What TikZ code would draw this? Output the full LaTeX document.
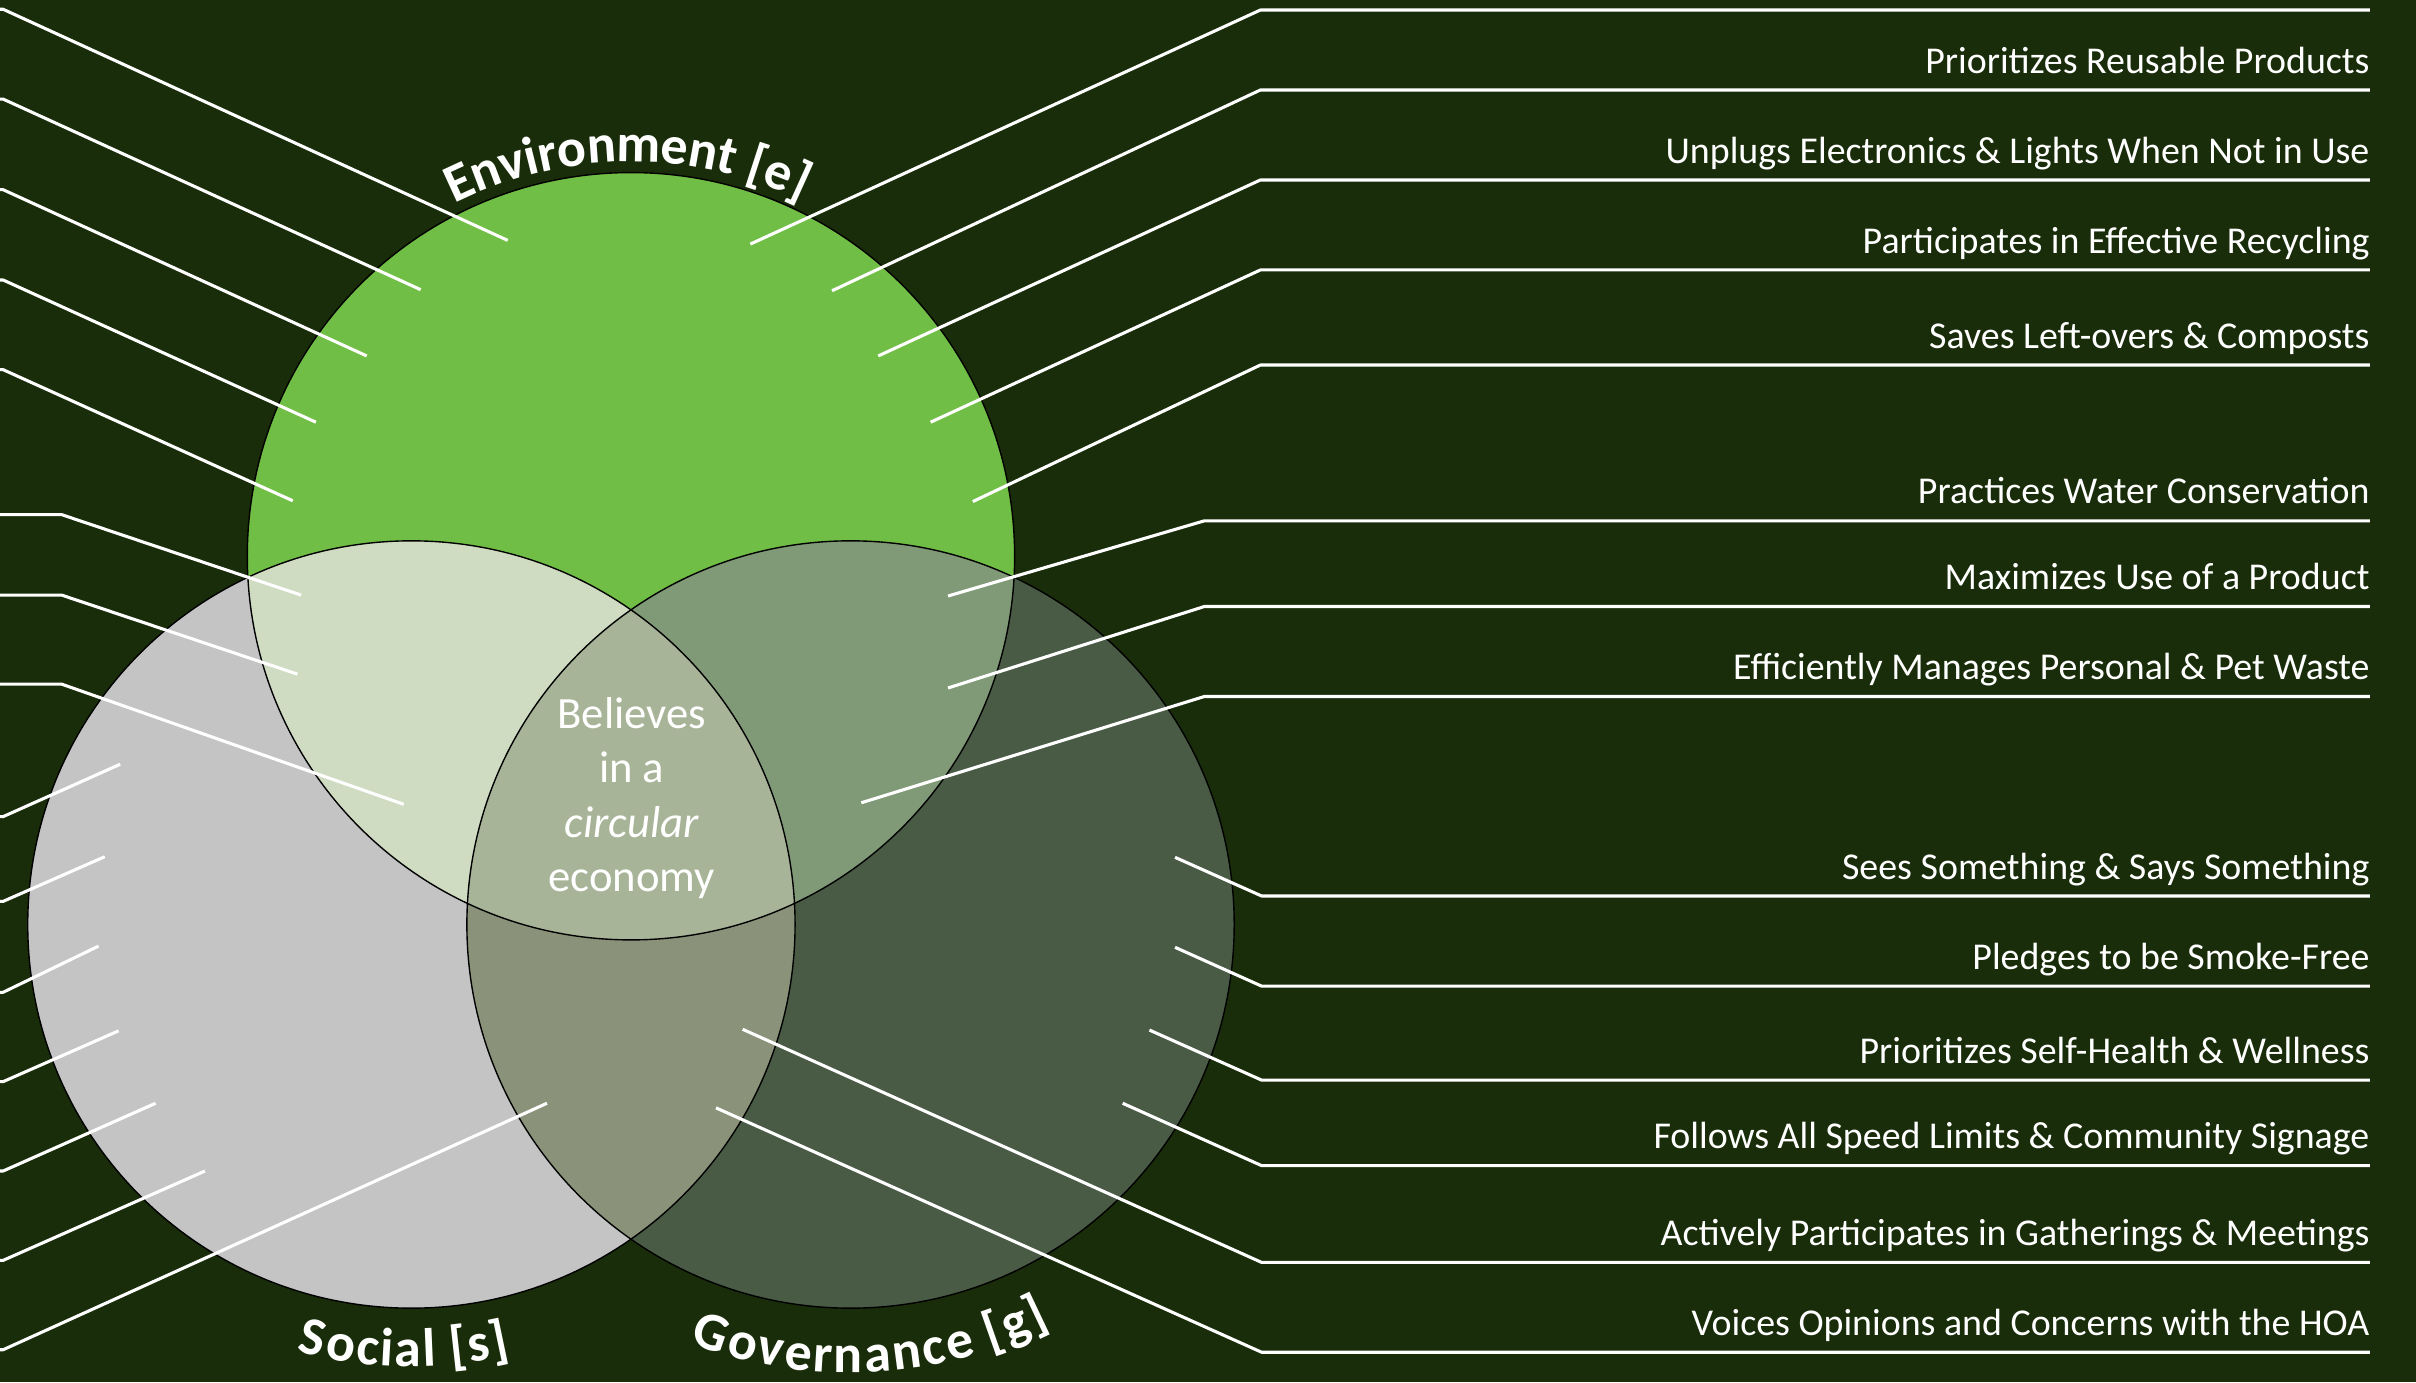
\documentclass[tikz,border=0pt]{standalone}
\usepackage{fontspec}
\setmainfont{Carlito}
\usetikzlibrary{decorations.text}
\definecolor{bgc}{RGB}{25,45,10}
\definecolor{envc}{RGB}{112,190,70}
\definecolor{socc}{RGB}{196,196,196}
\definecolor{govc}{RGB}{73,91,68}
\definecolor{esc}{RGB}{207,220,194}
\definecolor{egc}{RGB}{128,154,119}
\definecolor{sgc}{RGB}{138,147,122}
\definecolor{allc}{RGB}{168,180,152}
\newcommand{\itemfont}{\fontsize{24.6}{29}\selectfont}
\newcommand{\lblfont}{\fontsize{35}{40}\selectfont\bfseries}
\newcommand{\corefont}{\fontsize{29}{35}\selectfont}
\begin{document}
\begin{tikzpicture}[x=1pt,y=-1pt,
  leader/.style={draw=white, line width=2pt, line join=round},
  item/.style={anchor=base east, text=white, font=\itemfont, inner sep=0pt},
  core/.style={anchor=base, text=white, font=\corefont, inner sep=0pt},
  ring/.style={draw=black, line width=0.9pt},
  arclabel/.style={decorate, decoration={text effects along path,
    text={#1}, text effects/.cd, text along path, fit text to path,
    characters={text=white, font=\lblfont, anchor=base, inner sep=0pt}}}]
\fill[bgc] (0,0) rectangle (1568,897);
\useasboundingbox (0,0) rectangle (1568,897);
\def\R{249}
\coordinate (E) at (409.5,361);
\coordinate (S) at (267,600);
\coordinate (G) at (552,600);
% circle fills
\fill[envc] (E) circle[radius=\R];
\fill[socc] (S) circle[radius=\R];
\fill[govc] (G) circle[radius=\R];
\begin{scope}
  \clip (E) circle[radius=\R];
  \fill[esc] (S) circle[radius=\R];
  \fill[egc] (G) circle[radius=\R];
\end{scope}
\begin{scope}
  \clip (S) circle[radius=\R];
  \fill[sgc] (G) circle[radius=\R];
\end{scope}
\begin{scope}
  \clip (E) circle[radius=\R];
  \clip (S) circle[radius=\R];
  \fill[allc] (G) circle[radius=\R];
\end{scope}
\draw[ring] (E) circle[radius=\R];
\draw[ring] (S) circle[radius=\R];
\draw[ring] (G) circle[radius=\R];
% curved circle labels
\path[arclabel={Environment [e]}]
  (E) ++(243.4:256) arc[start angle=243.4, end angle=295.6, radius=256];
\path[arclabel={Social [s]}]
  (S) ++(105:287) arc[start angle=105, end angle=77, radius=287];
\path[arclabel={Governance [g]}]
  (G) ++(111:291) arc[start angle=111, end angle=63.5, radius=291];
% centre text
\node[core] (c1) at (410,472.6) {Believes};
\node[core] (c2) at (410,508) {in a};
\node[core] (c3) at (410,543.4) {\textit{circular}};
\node[core] (c4) at (410,578.7) {economy};
% right side leaders
\foreach \n/\ex/\ey/\cx/\cy in {
  1/487/158.4/818/6.5,
  2/540/188.7/818/58.4,
  3/570/231/818/116.8,
  4/604/274/818/175.2,
  5/631.4/325.5/818/236.9,
  6/615.3/386.8/781.7/338,
  7/615.3/446.5/781.7/393.6,
  8/559/521/781.7/452,
  9/762.6/556.4/818.8/581.5,
  10/762.6/614.8/818.8/640,
  11/746/668.5/818.8/701,
  12/728.6/716/818.8/756.5,
  13/482/668/818.8/819.3,
  14/464.7/719/818.8/877.6}{
  \coordinate (re\n) at (\ex,\ey);
  \coordinate (rc\n) at (\cx,\cy);
  \coordinate (rr\n) at (1538,\cy);
  \draw[leader] (re\n) -- (rc\n) -- (rr\n);
}
% right side texts
\node[item] (t2) at ([yshift=11pt]rr2) {Prioritizes Reusable Products};
\node[item] (t3) at ([yshift=11pt]rr3) {Unplugs Electronics \& Lights When Not in Use};
\node[item] (t4) at ([yshift=11pt]rr4) {Participates in Effective Recycling};
\node[item] (t5) at ([yshift=11pt]rr5) {Saves Left-overs \& Composts};
\node[item] (t6) at ([yshift=11pt]rr6) {Practices Water Conservation};
\node[item] (t7) at ([yshift=11pt]rr7) {Maximizes Use of a Product};
\node[item] (t8) at ([yshift=11pt]rr8) {Efficiently Manages Personal \& Pet Waste};
\node[item] (t9) at ([yshift=11pt]rr9) {Sees Something \& Says Something};
\node[item] (t10) at ([yshift=11pt]rr10) {Pledges to be Smoke-Free};
\node[item] (t11) at ([yshift=11pt]rr11) {Prioritizes Self-Health \& Wellness};
\node[item] (t12) at ([yshift=11pt]rr12) {Follows All Speed Limits \& Community Signage};
\node[item] (t13) at ([yshift=11pt]rr13) {Actively Participates in Gatherings \& Meetings};
\node[item] (t14) at ([yshift=11pt]rr14) {Voices Opinions and Concerns with the HOA};
% left side leaders
\foreach \n/\ex/\ey/\cx/\cy in {
  1/329.5/156/2/6,
  2/273/188/2/64.3,
  3/238/231/2/123.1,
  4/205/274/2/181.7,
  5/190/325/2/239.9,
  6/195.4/386.2/40/334,
  7/193/437.5/40/386.2,
  8/262/522/40/444,
  9/78/496/2/530,
  10/68/556/2/585,
  11/64/614/2/644,
  12/77/669/2/702,
  13/101/716/2/760,
  14/133/760/2/818,
  15/355/716/2/876}{
  \coordinate (le\n) at (\ex,\ey);
  \coordinate (lc\n) at (\cx,\cy);
  \coordinate (lo\n) at (-40,\cy);
  \draw[leader] (le\n) -- (lc\n) -- (lo\n);
}
\end{tikzpicture}
\end{document}
